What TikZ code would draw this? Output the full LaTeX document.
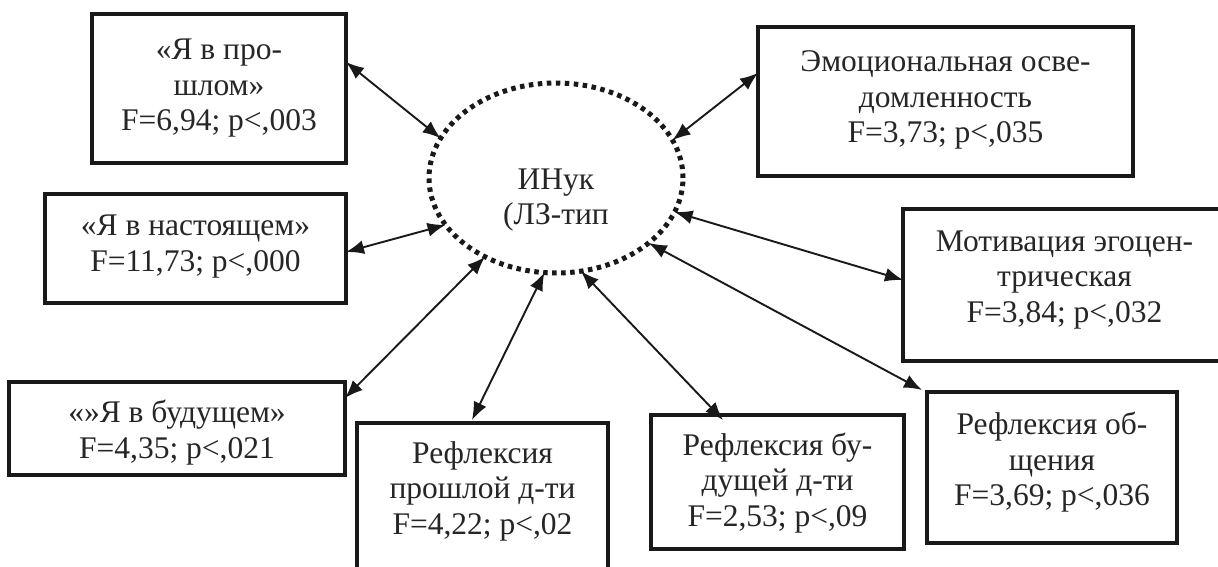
\documentclass[tikz,border=0pt]{standalone}
\usepackage{fontspec}
\setmainfont{Liberation Serif}
\usetikzlibrary{arrows.meta,calc,shapes.geometric}
\tikzset{
  box/.style={draw=black!90, line width=3.5pt, inner sep=0pt, outer sep=0pt},
  txt/.style={align=center, inner sep=0pt, font=\fontsize{31.5}{35.5}\selectfont, text=black!85},
  link/.style={line width=1.9pt, draw=black!90,
    {Latex[length=18pt,width=14pt]}-{Latex[length=18pt,width=14pt]}},
  centre/.style={ellipse, draw=black!90, line width=5pt, dash pattern=on 4.5pt off 4.5pt,
    inner sep=0pt, outer sep=0pt, minimum width=254pt, minimum height=190pt}
}
\begin{document}
\begin{tikzpicture}[x=1pt,y=-1pt]
\useasboundingbox (0,0) rectangle (1218,567);
\clip (0,0) rectangle (1218,567);
\fill[white] (0,0) rectangle (1218,567);
\node[centre] (ell) at (556,178) {};
\node[txt] (tell) at ($(ell.center)+(0,22)$) {ИНук\\(ЛЗ-тип};
\node[box, minimum width=254pt, minimum height=149pt] (b1) at (219,88.5) {};
\node[txt] (t1) at (b1.center) {«Я в про-\\шлом»\\F=6,94; p<,003};
\node[box, minimum width=301pt, minimum height=109pt] (b2) at (195.5,248.5) {};
\node[txt] (t2) at ($(b2.center)+(0,-2)$) {«Я в настоящем»\\F=11,73; p<,000};
\node[box, minimum width=336pt, minimum height=93pt] (b3) at (177,428.5) {};
\node[txt] (t3) at ($(b3.center)+(0,4)$) {«»Я в будущем»\\F=4,35; p<,021};
\node[box, minimum width=251pt, minimum height=152pt] (b4) at (482.5,499) {};
\node[txt] (t4) at ($(b4.center)+(0,-8)$) {Рефлексия\\прошлой д-ти\\F=4,22; p<,02};
\node[box, minimum width=253pt, minimum height=134pt] (b5) at (777.5,482) {};
\node[txt] (t5) at ($(b5.center)+(0,1)$) {Рефлексия бу-\\дущей д-ти\\F=2,53; p<,09};
\node[box, minimum width=250pt, minimum height=151pt] (b6) at (1052,467.5) {};
\node[txt] (t6) at ($(b6.center)+(0,-5)$) {Рефлексия об-\\щения\\F=3,69; p<,036};
\node[box, minimum width=317pt, minimum height=152pt] (b7) at (1061.5,285) {};
\node[txt] (t7) at ($(b7.center)+(3,-5)$) {Мотивация эгоцен-\\трическая\\F=3,84; p<,032};
\node[box, minimum width=375pt, minimum height=149pt] (b8) at (945.5,101.5) {};
\node[txt] (t8) at ($(b8.center)+(0,-1.5)$) {Эмоциональная осве-\\домленность\\F=3,73; p<,035};
\draw[link] ($(b1.north east)+(0,48)$) -- (ell.161.4);
\draw[link] ($(b2.north east)+(0,58)$) -- (ell.203.4);
\draw[link] ($(b3.north east)+(0,16)$) -- (ell.228.1);
\draw[link] ($(b4.north west)+(115,-3)$) -- (ell.263.7);
\draw[link] ($(b5.north west)+(72,5)$) -- (ell.285.3);
\draw[link] ($(b6.north west)+(-5,-2)$) -- (ell.325.9);
\draw[link] ($(b7.north west)+(0,71)$) -- (ell.344.3);
\draw[link] ($(b8.north west)+(0,46)$) -- (ell.18.9);
\end{tikzpicture}
\end{document}
